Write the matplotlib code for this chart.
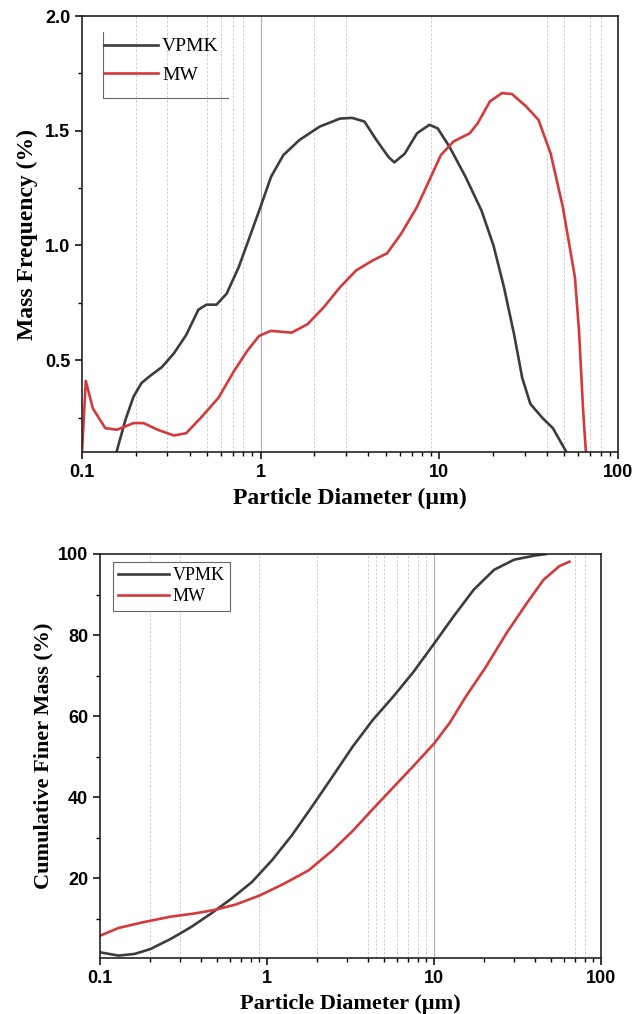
import numpy as np
import matplotlib.pyplot as plt
from matplotlib.ticker import MultipleLocator

# particle size distribution

# top panel: mass frequency (%)
vpmk_d = [0.156, 0.175, 0.194, 0.215, 0.239, 0.28, 0.327, 0.383, 0.448, 0.497, 0.566,
          0.645, 0.753, 0.88, 1.0, 1.144, 1.34, 1.65, 2.14, 2.78, 3.25, 3.81, 4.44,
          5.2, 5.6, 6.4, 7.5, 8.8, 9.8, 11.4, 14.0, 17.2, 20.1, 23.0, 26.2, 29.1,
          32.3, 37.8, 43.2, 51.4]
vpmk_freq = [0.10, 0.24, 0.34, 0.40, 0.43, 0.47, 0.53, 0.61, 0.72, 0.742, 0.742,
             0.79, 0.905, 1.05, 1.17, 1.30, 1.394, 1.46, 1.518, 1.553, 1.556, 1.54, 1.46,
             1.385, 1.362, 1.40, 1.489, 1.526, 1.51, 1.43, 1.30, 1.153, 1.0, 0.818, 0.613, 0.423,
             0.31, 0.248, 0.204, 0.10]

mw_d = [0.1, 0.105, 0.115, 0.135, 0.157, 0.194, 0.221, 0.265, 0.327, 0.383, 0.47,
        0.58, 0.71, 0.84, 0.98, 1.14, 1.49, 1.83, 2.25, 2.78, 3.42, 4.22, 5.1, 6.1,
        7.5, 8.8, 10.2, 12.0, 14.8, 16.4, 19.2, 22.4, 25.5, 30.6, 35.9, 42.0, 49.1,
        57.4, 60.5, 63.7, 66.1]
mw_freq = [0.10, 0.41, 0.29, 0.204, 0.197, 0.226, 0.226, 0.197, 0.172, 0.182, 0.255,
           0.336, 0.453, 0.54, 0.606, 0.628, 0.62, 0.657, 0.73, 0.818, 0.891, 0.934, 0.966, 1.05,
           1.168, 1.285, 1.394, 1.453, 1.489, 1.533, 1.628, 1.664, 1.66, 1.606, 1.547, 1.40, 1.168,
           0.861, 0.628, 0.29, 0.10]

# bottom panel: cumulative finer mass (%)
vpmk_cd = [0.1, 0.129, 0.161, 0.2, 0.265, 0.35, 0.46, 0.61, 0.81, 1.07, 1.41, 1.87,
           2.46, 3.25, 4.29, 5.7, 7.5, 9.9, 13.1, 17.3, 22.9, 30.2, 39.9, 47.0]
vpmk_cum = [1.7, 0.9, 1.3, 2.5, 5.0, 7.9, 11.2, 14.9, 19.0, 24.4, 30.6, 37.8,
            45.0, 52.4, 59.0, 64.8, 70.8, 77.6, 84.6, 91.2, 96.1, 98.6, 99.6, 100.0]

mw_cd = [0.1, 0.129, 0.18, 0.265, 0.37, 0.49, 0.65, 0.9, 1.26, 1.77, 2.46, 3.25,
         4.29, 5.7, 7.5, 10.0, 12.4, 15.5, 20.5, 27.2, 36.0, 45.2, 56.3, 64.7]
mw_cum = [5.8, 7.7, 9.1, 10.5, 11.3, 12.2, 13.5, 15.7, 18.6, 21.9, 26.8, 31.6,
          37.0, 42.4, 47.6, 53.2, 58.3, 64.8, 72.2, 80.5, 87.9, 93.6, 97.0, 98.1]

x_ticks = [0.1, 1, 10, 100]
x_tick_labels = ['0.1', '1', '10', '100']
top_y_ticks = [0.5, 1.0, 1.5, 2.0]
bot_y_ticks = [20, 40, 60, 80, 100]
top_grid = [0.2, 0.3, 0.5, 0.6, 0.7, 0.8, 2, 3, 9, 40, 50, 70, 80]
bot_grid = [0.2, 0.3, 0.9, 2, 4, 4.5, 5, 6, 7, 8, 9, 70, 80]

c_vpmk = '#3c3c3c'
c_mw = '#d4393b'
serif = 'Liberation Serif'
sans = 'Liberation Sans'

fig = plt.figure(figsize=(6.35, 10.14), dpi=100)
ax1 = fig.add_axes([82/635, 1-452/1014, 536/635, 436/1014])
ax2 = fig.add_axes([100/635, 1-958/1014, 501/635, 404/1014])


def style(ax, grid, solid, lab_size):
    ax.set_xscale('log')
    for g in grid:
        ax.axvline(g, color='#c8c8c8', lw=0.6, ls=(0, (3, 2)), zorder=0)
    ax.axvline(solid, color='#b0b0b0', lw=0.8, zorder=0)
    ax.set_xticks(x_ticks)
    ax.set_xticklabels(x_tick_labels)
    ax.tick_params(which='major', direction='out', length=5, width=1.1,
                   labelsize=13)
    ax.tick_params(which='minor', direction='out', length=3, width=1.0)
    for lab in ax.get_xticklabels() + ax.get_yticklabels():
        lab.set_fontfamily(sans)
        lab.set_fontweight('bold')
    for s in ax.spines.values():
        s.set_linewidth(1.2)
        s.set_color('#222222')
    ax.set_xlabel('Particle Diameter (µm)', fontfamily=serif, fontweight='bold',
                  fontsize=lab_size, labelpad=5)


# top panel
ax1.plot(vpmk_d, vpmk_freq, color=c_vpmk, lw=1.9, label='VPMK')
ax1.plot(mw_d, mw_freq, color=c_mw, lw=1.9, label='MW')
ax1.set_xlim(0.1, 100)
ax1.set_ylim(0.1, 2.0)
ax1.set_yticks(top_y_ticks)
ax1.yaxis.set_minor_locator(MultipleLocator(0.25))
style(ax1, top_grid, 1, 17)
ax1.set_ylabel('Mass Frequency (%)', fontfamily=serif, fontweight='bold',
               fontsize=17, labelpad=5)
leg1 = ax1.legend(loc='upper left', bbox_to_anchor=(0.008, 0.99), frameon=False,
                  prop={'family': serif, 'size': 14}, handlelength=2.8,
                  handletextpad=0.2, labelspacing=0.55)
ax1.plot([0.039, 0.039, 0.272], [0.963, 0.812, 0.812], color='#666666', lw=0.8,
         transform=ax1.transAxes, clip_on=False)

# bottom panel
ax2.plot(vpmk_cd, vpmk_cum, color=c_vpmk, lw=1.9, label='VPMK')
ax2.plot(mw_cd, mw_cum, color=c_mw, lw=1.9, label='MW')
ax2.set_xlim(0.1, 100)
ax2.set_ylim(0.3, 100)
ax2.set_yticks(bot_y_ticks)
ax2.yaxis.set_minor_locator(MultipleLocator(10))
style(ax2, bot_grid, 10, 16)
ax2.set_ylabel('Cumulative Finer Mass (%)', fontfamily=serif, fontweight='bold',
               fontsize=16, labelpad=3)
leg2 = ax2.legend(loc='upper left', bbox_to_anchor=(0.026, 0.98), fancybox=False,
                  edgecolor='#666666', framealpha=1,
                  prop={'family': serif, 'size': 13}, handlelength=2.8,
                  handletextpad=0.2, labelspacing=0.2, borderpad=0.3,
                  borderaxespad=0)
leg2.get_frame().set_linewidth(0.8)

fig.savefig('out.png', dpi=100)
